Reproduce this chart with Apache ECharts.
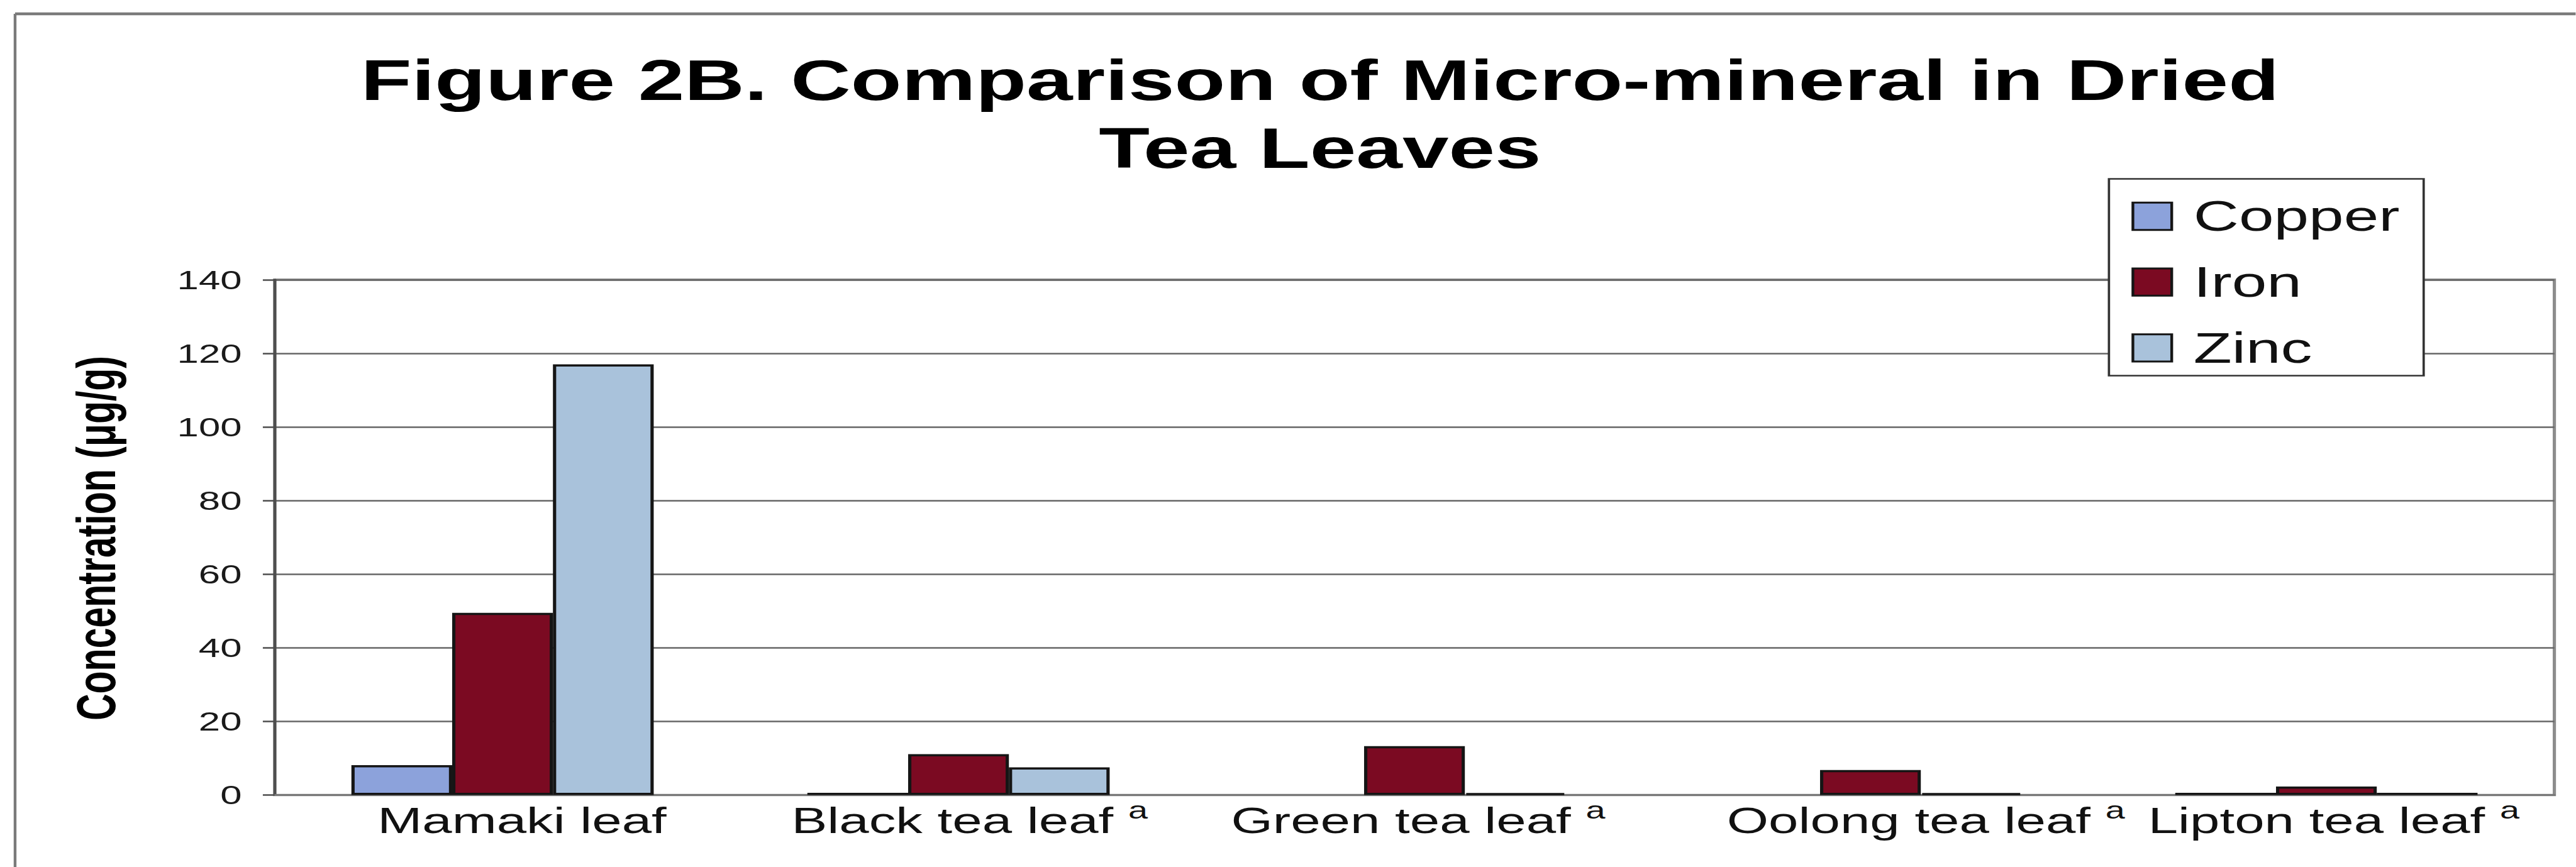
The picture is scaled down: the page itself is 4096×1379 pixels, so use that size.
<!DOCTYPE html>
<html>
<head>
<meta charset="utf-8">
<script src="https://cdn.jsdelivr.net/npm/echarts@6/dist/echarts.min.js"></script>
<style>
  html, body { margin: 0; padding: 0; background: #ffffff; overflow: hidden; }
  #frame { width: 4096px; height: 1379px; overflow: hidden; position: relative; background: #ffffff; }
  #chart { position: absolute; left: 0; top: 0; height: 1379px; transform-origin: 0 0; }
</style>
</head>
<body>
<div id="frame"><div id="chart"></div></div>
<script>
// ---- data (µg/g) ----
const categories = ['Mamaki leaf', 'Black tea leaf', 'Green tea leaf', 'Oolong tea leaf', 'Lipton tea leaf'];
const footnotes  = ['', 'a', 'a', 'a', 'a'];
const copper = [8.1, 0.6, null, null, 0.6];
const iron   = [49.5, 11.1, 13.3, 6.8, 2.3];
const zinc   = [117, 7.5, 0.5, 0.5, 0.6];
const yMin = 0, yMax = 140, yStep = 20;

const titleLines = ['Figure 2B. Comparison of Micro-mineral in Dried', 'Tea Leaves'];
const yTitle = 'Concentration (\u03bcg/g)';

// ---- layout / styling ----
// The figure is typeset wide: it is laid out on a narrower surface and stretched horizontally.
const STRETCH = 1.47;
const W = 4096 / STRETCH, H = 1379;
const FONT = '"Liberation Sans", Arial, Helvetica, sans-serif';
const labelShift = [21, 12, 4, 60, 8];   // horizontal nudge of each category label

const el = document.getElementById('chart');
el.style.width = W + 'px';
el.style.transform = 'scaleX(' + STRETCH + ')';

const chart = echarts.init(el, null, { renderer: 'svg', width: W, height: H });

const rich = {
  name: { fontSize: 58, lineHeight: 70, fontFamily: FONT, color: '#111111' },
  sup:  { fontSize: 38, lineHeight: 40, fontFamily: FONT, color: '#111111', verticalAlign: 'top' }
};
labelShift.forEach(function (d, i) { rich['gap' + i] = { width: 2 * d, height: 1 }; });

const barStyle = function (color) {
  return { color: color, borderColor: '#151515', borderWidth: 3.5 };
};

chart.setOption({
  animation: false,
  backgroundColor: '#ffffff',
  textStyle: { fontFamily: FONT },
  grid: {
    left: 297.0, right: 23.4, top: 444.8, bottom: 114.5,
    show: true, borderColor: '#8c8c8c', borderWidth: 3.5, backgroundColor: 'transparent'
  },
  legend: {
    orient: 'vertical',
    left: 2281.2, top: 284.6,
    padding: [25.4, 26, 10.2, 24.4],
    itemWidth: 42, itemHeight: 43.3, itemGap: 36.7,
    icon: 'rect',
    backgroundColor: '#ffffff',
    borderColor: '#333333', borderWidth: 2.5,
    itemStyle: { borderColor: '#151515', borderWidth: 3 },
    textStyle: { fontSize: 68, lineHeight: 68, fontFamily: FONT, color: '#111111', padding: [0, 0, 0, 18.5] },
    data: ['Copper', 'Iron', 'Zinc']
  },
  xAxis: {
    type: 'category',
    data: categories,
    axisLine: { show: true, lineStyle: { color: '#777777', width: 3 } },
    axisTick: { show: false },
    axisLabel: {
      interval: 0, hideOverlap: false, margin: 5.5,
      formatter: function (value, idx) {
        let s = '{gap' + idx + '|}{name|' + value + (footnotes[idx] ? ' ' : '') + '}';
        if (footnotes[idx]) s += '{sup|' + footnotes[idx] + '}';
        return s;
      },
      rich: rich
    },
    splitLine: { show: false }
  },
  yAxis: {
    type: 'value', min: yMin, max: yMax, interval: yStep,
    axisLine: { show: true, lineStyle: { color: '#4d4d4d', width: 3 } },
    axisTick: { show: true, length: 12.7, lineStyle: { color: '#4d4d4d', width: 2.5 } },
    axisLabel: { margin: 35.4, fontSize: 42, fontFamily: FONT, color: '#1a1a1a' },
    splitLine: { show: true, lineStyle: { color: '#666666', width: 2.5 } }
  },
  series: [
    { name: 'Copper', type: 'bar', data: copper, barGap: '0%', barCategoryGap: '33.7%', itemStyle: barStyle('#8ca2db') },
    { name: 'Iron',   type: 'bar', data: iron,   barGap: '0%', barCategoryGap: '33.7%', itemStyle: barStyle('#7b0a22') },
    { name: 'Zinc',   type: 'bar', data: zinc,   barGap: '0%', barCategoryGap: '33.7%', itemStyle: barStyle('#a9c2db') }
  ],
  graphic: [
    // frame of the chart area (top and left edges)
    { type: 'line', shape: { x1: 16.3, y1: 22.1, x2: W + 5, y2: 22.1 }, style: { stroke: '#7a7a7a', lineWidth: 4.5 }, z: 10 },
    { type: 'line', shape: { x1: 16.3, y1: 22.1, x2: 16.3, y2: H + 5 }, style: { stroke: '#7a7a7a', lineWidth: 3 }, z: 10 },
    // title
    { type: 'text', x: 1427.8, y: 128, z: 10,
      style: { text: titleLines[0], fill: '#000000', font: 'bold 90px ' + FONT, textAlign: 'center', textVerticalAlign: 'middle' } },
    { type: 'text', x: 1427.8, y: 236.2, z: 10,
      style: { text: titleLines[1], fill: '#000000', font: 'bold 90px ' + FONT, textAlign: 'center', textVerticalAlign: 'middle' } },
    // y-axis title
    { type: 'text', x: 104, y: 856, rotation: Math.PI / 2, z: 10,
      style: { text: yTitle, fill: '#000000', font: 'bold 59px ' + FONT, textAlign: 'center', textVerticalAlign: 'middle' } }
  ]
});
</script>
</body>
</html>
